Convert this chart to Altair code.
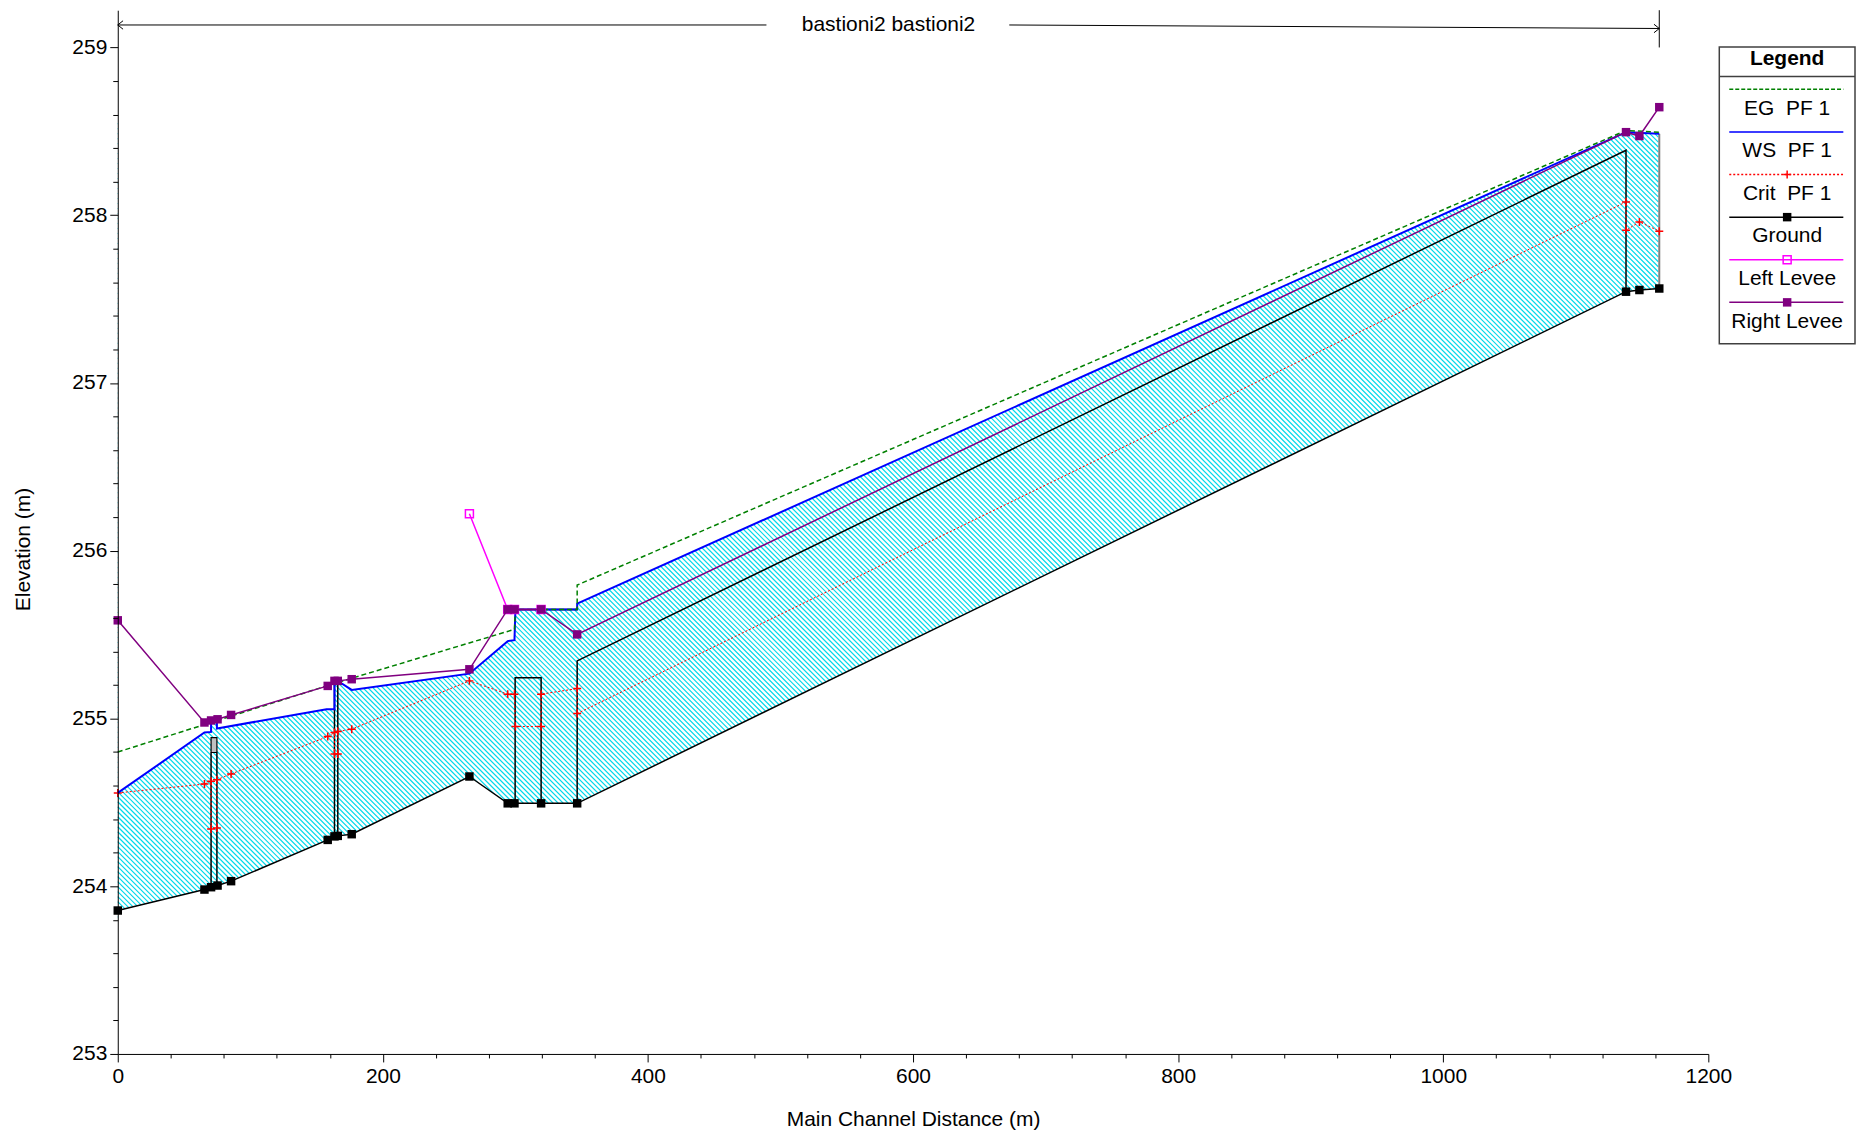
import altair as alt
import numpy as np
import pandas as pd

# ---------------- values ----------------
# cross-section stations along the main channel (m)
xs_station = [0.0, 65.4, 70.4, 75.3, 85.5, 158.4, 163.5, 166.0, 176.5, 265.3,
              294.2, 299.3, 319.4, 346.6, 1137.9, 1148.0, 1163.0]
ground_elev = [253.855, 253.980, 253.994, 254.004, 254.030, 254.276, 254.297, 254.300,
               254.310, 254.654, 254.494, 254.494, 254.494, 254.494, 257.544, 257.554, 257.563]
right_levee_elev = [255.585, 254.976, 254.988, 254.995, 255.021, 255.194, 255.224, 255.224,
                    255.234, 255.293, 255.650, 255.650, 255.650, 255.501, 258.495, 258.472, 258.644]

left_levee_station = [265.3, 294.2, 299.3, 319.4]
left_levee_elev = [256.22, 255.65, 255.65, 255.65]

ws_station = [0.0, 65.4, 70.4, 70.4, 74.8, 74.8, 157.5, 163.5, 163.5, 166.0, 176.5,
              265.3, 294.2, 299.3, 300.0, 346.6, 346.6, 1137.9, 1163.0]
ws_elev = [254.556, 254.916, 254.920, 254.996, 254.996, 254.940, 255.055, 255.055, 255.224,
           255.224, 255.170, 255.267, 255.461, 255.467, 255.650, 255.650, 255.684, 258.495, 258.485]

eg_station = [0.0, 164.0, 299.3, 300.0, 346.6, 346.6, 1137.9, 1163.0]
eg_elev = [254.800, 255.210, 255.531, 255.650, 255.650, 255.795, 258.505, 258.495]

crit_station = [0.0, 65.4, 70.4, 70.4, 74.8, 74.8, 85.5, 158.4, 163.5, 163.5, 166.0, 166.0,
                176.5, 265.3, 294.2, 299.3, 300.0, 319.4, 319.4, 346.6, 346.6, 1137.9, 1137.9,
                1148.0, 1163.0]
crit_elev = [254.556, 254.609, 254.625, 254.341, 254.347, 254.635, 254.669, 254.892, 254.916,
             254.788, 254.788, 254.922, 254.936, 255.224, 255.145, 255.145, 254.952, 254.952,
             255.145, 255.178, 255.029, 258.079, 257.910, 257.960, 257.905]

# structure outlines (bridges / culverts), one id per polyline
struct_id = ["A1", "A1", "A2", "A2", "B1", "B1", "B2", "B2", "C", "C", "C", "C",
             "R", "R", "D", "D", "D", "D"]
struct_station = [70.4, 70.4, 74.8, 74.8, 163.5, 163.5, 166.0, 166.0,
                  299.8, 299.8, 319.4, 319.4, 299.8, 346.6, 346.6, 346.6, 1137.9, 1137.9]
struct_elev = [253.994, 254.797, 254.000, 254.797, 254.297, 255.224, 254.300, 255.224,
               254.494, 255.243, 255.243, 254.494, 255.650, 255.650, 254.494, 255.343,
               258.387, 257.544]
deck_station = [70.4, 74.8]
deck_elev = [254.797, 254.886]

reach_title = "bastioni2 bastioni2"
reach_title_elev = [259.134, 259.113]
title_gap = [489.4, 672.6]

x_major_ticks = list(range(0, 1201, 200))
x_minor_ticks = [v for v in range(0, 1201, 40) if v % 200]
y_major_ticks = list(range(253, 260))
y_minor_ticks = [round(253 + 0.2 * i, 1) for i in range(31) if i % 5]

legend_labels = ["EG\u00a0\u00a0PF 1", "WS\u00a0\u00a0PF 1", "Crit\u00a0\u00a0PF 1",
                 "Ground", "Left Levee", "Right Levee"]
legend_colors = ["#008000", "#3c3cff", "#ff0000", "#000000", "#ff00ff", "#800080"]
legend_dash = [[4, 2], [1, 0], [2, 2], [1, 0], [1, 0], [1, 0]]

# ---------------- layout ----------------
W, H = 1594, 1046
X_DOMAIN = [0, 1200]
Y_DOMAIN = [253.0, 259.222]
FONT = "Liberation Sans"
FS = 21

xscale = alt.Scale(domain=X_DOMAIN, nice=False, zero=False)
yscale = alt.Scale(domain=Y_DOMAIN, nice=False, zero=False)


def ex(field, axis=None):
    return alt.X(field, type="quantitative", scale=xscale, axis=axis)


def ey(field, axis=None):
    return alt.Y(field, type="quantitative", scale=yscale, axis=axis)


common_axis = dict(grid=False, zindex=1, tickColor="black", domainColor="black",
                   labelColor="black", titleColor="black", labelFont=FONT, titleFont=FONT)
x_major = alt.Axis(orient="bottom", values=x_major_ticks, tickSize=8, labelFontSize=FS,
                   labelPadding=4, labelFlush=False, labelOverlap=False, format="d",
                   title="Main Channel Distance (m)", titleFontSize=FS, titleFontWeight="normal",
                   titleY=66, titleBaseline="middle", **common_axis)
x_minor = alt.Axis(orient="bottom", values=x_minor_ticks, tickSize=4, labels=False,
                   domain=False, title=None, **common_axis)
y_major = alt.Axis(orient="left", values=y_major_ticks, tickSize=8, labelFontSize=FS,
                   labelPadding=3, labelFlush=False, labelOverlap=False, format="d",
                   title="Elevation (m)", titleFontSize=FS, titleFontWeight="normal",
                   titleX=-94, titleY=540, titleBaseline="middle", titleAngle=270,
                   **common_axis)
y_minor = alt.Axis(orient="left", values=y_minor_ticks, tickSize=5, labels=False,
                   domain=False, title=None, **common_axis)

# hatch pattern of the flow area (diagonal cyan lines), clipped to the reach box
HATCH_STEP = 5.0
kx = W / (X_DOMAIN[1] - X_DOMAIN[0])
ky = H / (Y_DOMAIN[1] - Y_DOMAIN[0])
hatch_lo = min(ground_elev) - 0.05
hatch_hi = max(ws_elev) + 0.06
px_l = (xs_station[0] - X_DOMAIN[0]) * kx
px_r = (xs_station[-1] - X_DOMAIN[0]) * kx - 1.0
py_t = (Y_DOMAIN[1] - hatch_hi) * ky
py_b = (Y_DOMAIN[1] - hatch_lo) * ky
hatch_rows = []
c = py_t - px_r
while c < py_b - px_l:
    xa = max(px_l, py_t - c)
    xb = min(px_r, py_b - c)
    if xb > xa:
        hatch_rows.append({"hx": X_DOMAIN[0] + xa / kx, "hy": Y_DOMAIN[1] - (xa + c) / ky,
                           "hx2": X_DOMAIN[0] + xb / kx, "hy2": Y_DOMAIN[1] - (xb + c) / ky})
    c += HATCH_STEP
hatch_df = pd.DataFrame(hatch_rows)


def seq_df(st, el):
    return pd.DataFrame({"station": st, "elev": el, "seq": list(range(len(st)))})


ground_df = seq_df(xs_station, ground_elev)
ground_df["base"] = hatch_lo - 0.05
ws_df = seq_df(ws_station, ws_elev)
ws_df["top"] = hatch_hi + 0.05
eg_df = seq_df(eg_station, eg_elev)
crit_df = seq_df(crit_station, crit_elev)
rl_df = seq_df(xs_station, right_levee_elev)
ll_df = seq_df(left_levee_station, left_levee_elev)
struct_df = pd.DataFrame({"sid": struct_id, "station": struct_station, "elev": struct_elev,
                          "seq": list(range(len(struct_id)))})
deck_df = pd.DataFrame({"x": [deck_station[0]], "x2": [deck_station[1]],
                        "y": [deck_elev[0]], "y2": [deck_elev[1]]})
edge_df = pd.DataFrame({"x": [xs_station[-1]], "y": [ground_elev[-1]], "y2": [ws_elev[-1]]})

reach_start, reach_end = xs_station[0], xs_station[-1]
arrow_seg_df = pd.DataFrame({"x": [reach_start, title_gap[1]], "x2": [title_gap[0], reach_end],
                             "y": [reach_title_elev[0], reach_title_elev[0]],
                             "y2": [reach_title_elev[0], reach_title_elev[1]]})
arrow_l_df = pd.DataFrame({"x": [reach_start], "y": [reach_title_elev[0]]})
arrow_r_df = pd.DataFrame({"x": [reach_end], "y": [reach_title_elev[1]]})
end_bar_df = pd.DataFrame({"x": [reach_end], "y": [float(y_major_ticks[-1])], "y2": [Y_DOMAIN[1]]})
title_df = pd.DataFrame({"x": [(reach_start + reach_end) / 2], "y": [reach_title_elev[0]],
                         "t": [reach_title]})

PLUS = "M-1,0L1,0M0,-1L0,1"

layers = [
    alt.Chart(hatch_df).mark_rule(color="#00d8ea", strokeWidth=1.2).encode(
        x=ex("hx", x_major), y=ey("hy", y_major), x2="hx2", y2="hy2"),
    alt.Chart(ws_df).mark_area(color="white", opacity=1).encode(
        x=ex("station", x_minor), y=ey("elev", y_minor), y2="top"),
    alt.Chart(ground_df).mark_area(color="white", opacity=1).encode(
        x=ex("station"), y=ey("elev"), y2="base"),
    alt.Chart(deck_df).mark_rect(fill="#c0c0c0", stroke="#000000", strokeWidth=1.2).encode(
        x=ex("x"), x2="x2", y=ey("y"), y2="y2"),
    alt.Chart(edge_df).mark_rule(color="#808080", strokeWidth=2).encode(
        x=ex("x"), y=ey("y"), y2="y2"),
    alt.Chart(struct_df).mark_line(color="#000000", strokeWidth=1.5).encode(
        x=ex("station"), y=ey("elev"), detail="sid:N", order="seq:Q"),
    alt.Chart(ground_df).mark_line(color="#000000", strokeWidth=1.5).encode(
        x=ex("station"), y=ey("elev"), order="seq:Q"),
    alt.Chart(ground_df).mark_square(color="#000000", size=72, opacity=1).encode(
        x=ex("station"), y=ey("elev")),
    alt.Chart(crit_df).mark_line(color="#ff0000", strokeWidth=1, strokeDash=[2, 2]).encode(
        x=ex("station"), y=ey("elev"), order="seq:Q"),
    alt.Chart(crit_df).mark_point(shape=PLUS, size=64, color="#ff0000", strokeWidth=1.5,
                                  filled=False, opacity=1).encode(
        x=ex("station"), y=ey("elev")),
    alt.Chart(ws_df).mark_line(color="#0000ff", strokeWidth=2).encode(
        x=ex("station"), y=ey("elev"), order="seq:Q"),
    alt.Chart(eg_df).mark_line(color="#008000", strokeWidth=1.5, strokeDash=[5, 3]).encode(
        x=ex("station"), y=ey("elev"), order="seq:Q"),
    alt.Chart(ll_df).mark_line(color="#ff00ff", strokeWidth=1.5).encode(
        x=ex("station"), y=ey("elev"), order="seq:Q"),
    alt.Chart(ll_df).mark_point(shape="square", size=64, color="#ff00ff", strokeWidth=1.5,
                                filled=False, opacity=1).encode(
        x=ex("station"), y=ey("elev")),
    alt.Chart(rl_df).mark_line(color="#800080", strokeWidth=1.5).encode(
        x=ex("station"), y=ey("elev"), order="seq:Q"),
    alt.Chart(rl_df).mark_square(color="#800080", size=72, opacity=1).encode(
        x=ex("station"), y=ey("elev")),
    alt.Chart(arrow_seg_df).mark_rule(color="#000000", strokeWidth=1).encode(
        x=ex("x"), x2="x2", y=ey("y"), y2="y2"),
    alt.Chart(arrow_l_df).mark_point(shape="M0,0L1.25,-1M0,0L1.25,1", size=72, color="#000000",
                                     strokeWidth=1, filled=False, opacity=1).encode(
        x=ex("x"), y=ey("y")),
    alt.Chart(arrow_r_df).mark_point(shape="M0,0L-1.25,-1M0,0L-1.25,1", size=72, color="#000000",
                                     strokeWidth=1, filled=False, opacity=1).encode(
        x=ex("x"), y=ey("y")),
    alt.Chart(end_bar_df).mark_rule(color="#000000", strokeWidth=1).encode(
        x=ex("x"), y=ey("y"), y2="y2"),
    alt.Chart(title_df).mark_text(font=FONT, fontSize=FS, color="#000000", align="center",
                                  baseline="middle").encode(
        x=ex("x"), y=ey("y"), text="t:N"),
]

main = alt.layer(*layers).properties(width=W, height=H).resolve_axis(
    x="independent", y="independent")

# ---------------- legend panel ----------------
LEG_W, LEG_H = 136, 338
lx = alt.Scale(domain=[0, 1], nice=False, zero=False)
ly = alt.Scale(domain=[-1.857, 6.059], nice=False, zero=False, reverse=True)


def lX(f):
    return alt.X(f, type="quantitative", scale=lx, axis=None)


def lY(f):
    return alt.Y(f, type="quantitative", scale=ly, axis=None)


frame_df = pd.DataFrame({"x0": [0.0], "x1": [1.0], "y0": [-0.991], "y1": [5.972],
                         "ysep": [-0.304], "yhead": [-0.72], "xm": [0.5], "head": ["Legend"]})
leg_df = pd.DataFrame({"row": list(range(len(legend_labels))), "label": legend_labels,
                       "x0": 0.0735, "x1": 0.914, "xm": 0.5,
                       "ylab": [r + 0.454 for r in range(len(legend_labels))]})

leg_layers = [
    alt.Chart(frame_df).mark_rect(fill="white", stroke="#404040", strokeWidth=1.5).encode(
        x=lX("x0"), x2="x1", y=lY("y0"), y2="y1"),
    alt.Chart(frame_df).mark_rule(color="#404040", strokeWidth=1.5).encode(
        x=lX("x0"), x2="x1", y=lY("ysep")),
    alt.Chart(frame_df).mark_text(font=FONT, fontSize=FS, fontWeight="bold", color="black",
                                  baseline="middle").encode(
        x=lX("xm"), y=lY("yhead"), text="head:N"),
]
for i in range(len(legend_labels)):
    leg_layers.append(
        alt.Chart(leg_df.iloc[[i]]).mark_rule(color=legend_colors[i], strokeDash=legend_dash[i],
                                              strokeWidth=1.5 if i != 1 else 2).encode(
            x=lX("x0"), x2="x1", y=lY("row")))
leg_layers += [
    alt.Chart(leg_df.iloc[[2]]).mark_point(shape=PLUS, size=64, color="#ff0000", strokeWidth=1.5,
                                           filled=False, opacity=1).encode(
        x=lX("xm"), y=lY("row")),
    alt.Chart(leg_df.iloc[[3]]).mark_square(color="#000000", size=72, opacity=1).encode(
        x=lX("xm"), y=lY("row")),
    alt.Chart(leg_df.iloc[[4]]).mark_point(shape="square", size=64, color="#ff00ff",
                                           strokeWidth=1.5, filled=False, opacity=1).encode(
        x=lX("xm"), y=lY("row")),
    alt.Chart(leg_df.iloc[[5]]).mark_square(color="#800080", size=72, opacity=1).encode(
        x=lX("xm"), y=lY("row")),
    alt.Chart(leg_df).mark_text(font=FONT, fontSize=FS, color="black", baseline="middle").encode(
        x=lX("xm"), y=lY("ylab"), text="label:N"),
]
legend = alt.layer(*leg_layers).properties(width=LEG_W, height=LEG_H)

chart = alt.hconcat(main, legend, spacing=11, bounds="flush").properties(
    padding={"left": 4, "top": 0, "right": 0, "bottom": 0}
).configure(font=FONT).configure_view(stroke="transparent")

chart.save("out.html", embed_options={"renderer": "svg", "actions": False})
